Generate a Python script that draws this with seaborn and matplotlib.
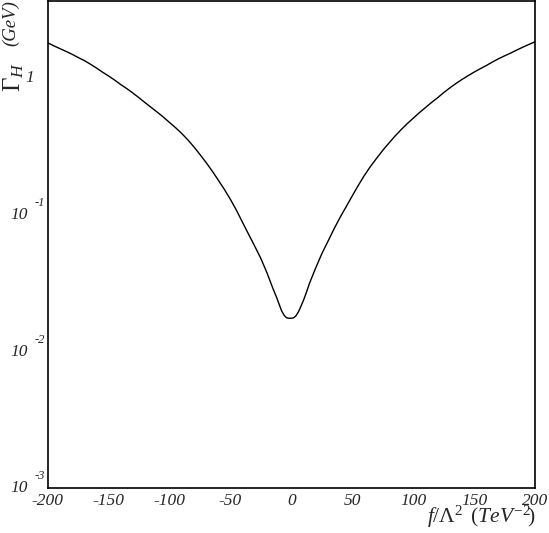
import numpy as np
import seaborn as sns
import matplotlib
matplotlib.use("Agg")
import matplotlib.pyplot as plt
from matplotlib.ticker import FixedLocator, NullFormatter, LogLocator

# f/Lambda^2 (TeV^-2) and Higgs width (GeV)
coupling = [-200, -195, -190, -185, -180, -175, -170, -165, -160, -155,
            -150, -145, -140, -135, -130, -125, -120, -115, -110, -105,
            -100, -95, -90, -85, -80, -75, -70, -65, -60, -55,
            -50, -45, -40, -35, -30, -25, -20, -15, -12, -10,
            -8, -6, -4, -2, 0, 2, 4, 6, 8, 10,
            12, 15, 20, 25, 30, 35, 40, 45, 50, 55,
            60, 65, 70, 75, 80, 85, 90, 95, 100, 105,
            110, 115, 120, 125, 130, 135, 140, 145, 150, 155,
            160, 165, 170, 175, 180, 185, 190, 195, 200]
width = [1.82, 1.73, 1.65, 1.575, 1.50, 1.42, 1.35, 1.27, 1.19, 1.11,
         1.04, 0.97, 0.90, 0.84, 0.78, 0.72, 0.663, 0.612, 0.565, 0.52,
         0.475, 0.435, 0.395, 0.355, 0.315, 0.277, 0.242, 0.21, 0.18, 0.154,
         0.130, 0.108, 0.088, 0.072, 0.059, 0.048, 0.0377, 0.0288, 0.0248, 0.0222,
         0.0199, 0.0185, 0.0177, 0.01755, 0.01755, 0.0177, 0.0184, 0.0197, 0.0216, 0.0238,
         0.0266, 0.0318, 0.041, 0.052, 0.064, 0.079, 0.096, 0.115, 0.138, 0.165,
         0.195, 0.227, 0.26, 0.297, 0.335, 0.377, 0.42, 0.465, 0.51, 0.56,
         0.61, 0.665, 0.72, 0.785, 0.85, 0.915, 0.98, 1.045, 1.11, 1.175,
         1.24, 1.315, 1.39, 1.46, 1.53, 1.61, 1.69, 1.77, 1.85]

x_ticks = [-200, -150, -100, -50, 0, 50, 100, 150, 200]
y_decades = [1e-3, 1e-2, 1e-1, 1.0]
y_exponents = ["-3", "-2", "-1", ""]

sns.set_style("white")
plt.rcParams["font.family"] = ["Liberation Serif", "DejaVu Serif"]
plt.rcParams["mathtext.fontset"] = "custom"
plt.rcParams["mathtext.rm"] = "Liberation Serif"
plt.rcParams["mathtext.it"] = "Liberation Serif:italic"
plt.rcParams["axes.unicode_minus"] = False

fig = plt.figure(figsize=(5.49, 5.33), dpi=100)
ax = fig.add_axes([47.7 / 549, 1 - 488.3 / 533, (535 - 47.7) / 549, (488.3 - 1) / 533])

sns.lineplot(x=coupling, y=width, color="black", linewidth=1.0, ax=ax)

ax.set_yscale("log")
ax.set_xlim(-200, 200)
ax.set_ylim(1e-3, 3.68)

for s in ax.spines.values():
    s.set_linewidth(1.2)
    s.set_color("black")

# x axis ticks
ax.xaxis.set_major_locator(FixedLocator(x_ticks))
ax.xaxis.set_minor_locator(FixedLocator(np.arange(-200, 201, 10)))
ax.set_xticklabels([str(t) for t in x_ticks], fontsize=12.5)
for lbl in ax.get_xticklabels():
    lbl.set_fontstyle("italic")

# y axis ticks, labels drawn by hand ROOT style
ax.yaxis.set_major_locator(FixedLocator(y_decades))
ax.yaxis.set_minor_locator(LogLocator(base=10, subs=np.arange(2, 10)))
ax.yaxis.set_major_formatter(NullFormatter())
ax.yaxis.set_minor_formatter(NullFormatter())

ax.tick_params(which="major", direction="in", length=6.8, width=1.0,
               top=False, right=False, pad=3.6, color="black")
ax.tick_params(which="minor", direction="in", length=3.3, width=1.0,
               top=False, right=False, color="black")

for val, ex in zip(y_decades, y_exponents):
    if ex:
        ax.annotate("10", xy=(0, val), xycoords=("axes fraction", "data"),
                    xytext=(-20, 0), textcoords="offset pixels",
                    ha="right", va="center", fontsize=12.5, fontstyle="italic")
        ax.annotate(ex, xy=(0, val), xycoords=("axes fraction", "data"),
                    xytext=(-13, 6), textcoords="offset pixels",
                    ha="left", va="bottom", fontsize=9, fontstyle="italic")
    else:
        ax.annotate("1", xy=(0, val), xycoords=("axes fraction", "data"),
                    xytext=(-14, 0), textcoords="offset pixels",
                    ha="right", va="center", fontsize=12.5, fontstyle="italic")

# axis titles
fig.text(0.003, 1.0, "(GeV)", rotation=90, ha="left", va="top",
         fontsize=13.5, fontstyle="italic")
fig.text(0.002, 1 - 62 / 533, r"$\Gamma_{H}$", rotation=90, ha="left", va="top",
         fontsize=18)
fig.text(536 / 549, 1 - 530 / 533, r"$f/\Lambda^{2}\ \,(TeV^{-2}\!)$",
         ha="right", va="bottom", fontsize=15.5)

fig.savefig("out.png", dpi=100, facecolor="white")
